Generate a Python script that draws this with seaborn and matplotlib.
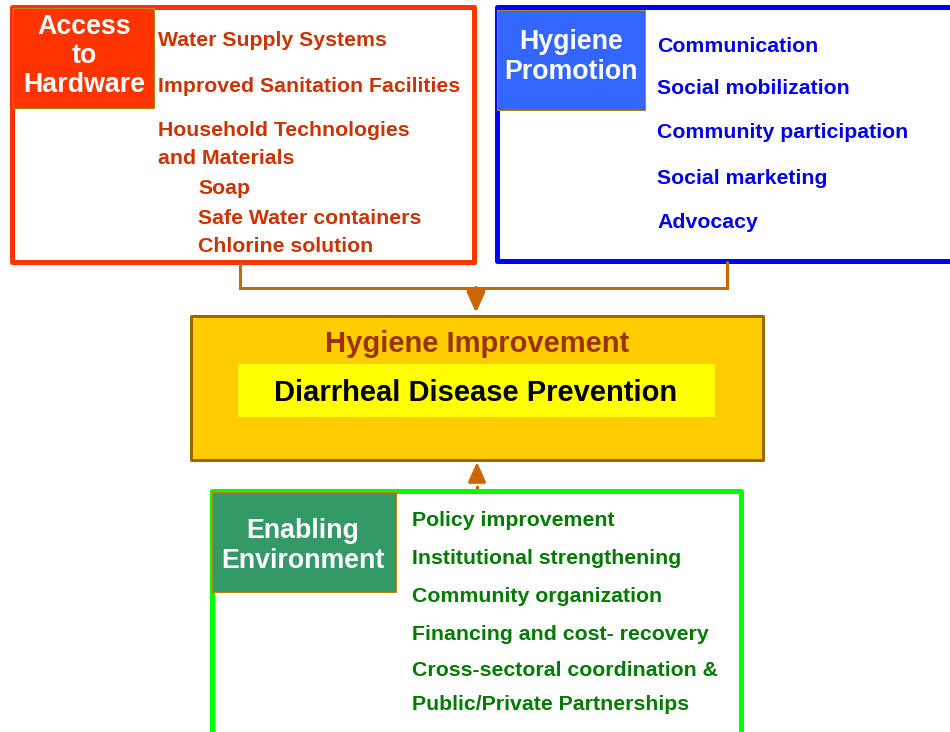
import matplotlib
matplotlib.use("Agg")
import matplotlib.pyplot as plt
import matplotlib.patches as mpatches
import seaborn as sns

# ---- content ----
hardware_title = "Access\nto\nHardware"
hardware_items = ["Water Supply Systems", "Improved Sanitation Facilities",
                  "Household Technologies", "and Materials"]
hardware_subitems = ["Soap", "Safe Water containers", "Chlorine solution"]

promotion_title = "Hygiene\nPromotion"
promotion_items = ["Communication", "Social mobilization", "Community participation",
                   "Social marketing", "Advocacy"]

center_title = "Hygiene Improvement"
center_subtitle = "Diarrheal Disease Prevention"

environment_title = "Enabling\nEnvironment"
environment_items = ["Policy improvement", "Institutional strengthening",
                     "Community organization", "Financing and cost- recovery",
                     "Cross-sectoral coordination &", "Public/Private Partnerships"]

# ---- layout ----
sns.set_theme(style="white")
plt.rcParams['font.family'] = ['Liberation Sans', 'DejaVu Sans']

W, H = 950, 732
fig = plt.figure(figsize=(W / 100, H / 100), dpi=100)
ax = fig.add_axes([0, 0, 1, 1])
ax.set_xlim(0, W)
ax.set_ylim(H, 0)
ax.axis("off")

PX = 72 / 100  # points per pixel
ITEM_FS = 15.3
LABEL_FS = 19.3
LS = 1.17


def rect(x0, y0, x1, y1, fc, ec, lw_px, z=1):
    r = mpatches.Rectangle((x0, y0), x1 - x0, y1 - y0, facecolor=fc, edgecolor=ec,
                           linewidth=lw_px * PX, joinstyle="round", zorder=z)
    ax.add_patch(r)


# Access to Hardware box
rect(12, 7, 474, 262, "white", "#FF3300", 5)
rect(13, 8, 154, 108, "#FF3300", "#B8860B", 1, z=2)
ax.text(84, 56, hardware_title, color="white", fontsize=LABEL_FS, fontweight="bold",
        ha="center", va="center", linespacing=LS, zorder=3)
red_txt = "#CC3300"
for yy, t in zip([41, 87, 130, 159], hardware_items):
    ax.text(158, yy, t, color=red_txt, fontsize=ITEM_FS, fontweight="bold", ha="left", va="center", zorder=3)
for yy, t in zip([189, 218, 246], hardware_subitems):
    ax.text(198, yy, t, color=red_txt, fontsize=ITEM_FS, fontweight="bold", ha="left", va="center", zorder=3)

# Hygiene Promotion box
rect(497, 7, 960, 261, "white", "#0000FF", 5)
rect(497, 10, 645, 110, "#3366FF", "#B8860B", 1, z=2)
ax.text(571, 57, promotion_title, color="white", fontsize=LABEL_FS, fontweight="bold",
        ha="center", va="center", linespacing=LS, zorder=3)
blue_txt = "#0000EE"
for yy, t in zip([46, 89, 132, 179, 222], promotion_items):
    ax.text(657, yy, t, color=blue_txt, fontsize=ITEM_FS, fontweight="bold", ha="left", va="center", zorder=3)

# connectors
conn = "#CC6600"
ax.plot([240, 240, 727, 727], [264, 288, 288, 262], color=conn, lw=3 * PX, zorder=1,
        solid_joinstyle="miter")
ax.annotate("", xy=(476, 313), xytext=(476, 288),
            arrowprops=dict(arrowstyle="-|>,head_width=0.45,head_length=1.0", color=conn,
                            lw=4 * PX, shrinkA=0, shrinkB=0), zorder=1)

# Hygiene Improvement box
rect(191, 316, 763, 460, "#FFCC00", "#996600", 3)
ax.text(477, 344, center_title, color="#993300", fontsize=21, fontweight="bold",
        ha="center", va="center", zorder=3)
rect(238, 364, 715, 417, "#FFFF00", "none", 0, z=2)
ax.text(476, 393, center_subtitle, color="black", fontsize=21, fontweight="bold",
        ha="center", va="center", zorder=3)

# bottom arrow (dashed shaft)
ax.plot([477, 477], [490, 478], color=conn, lw=3 * PX, ls=(0, (1.5, 1)), zorder=1)
ax.annotate("", xy=(477, 462), xytext=(477, 478),
            arrowprops=dict(arrowstyle="-|>,head_width=0.45,head_length=1.0", color=conn,
                            lw=3 * PX, shrinkA=0, shrinkB=0), zorder=1)

# Enabling Environment box
rect(212, 491, 741, 740, "white", "#00FF00", 5)
rect(212, 492, 396, 592, "#339966", "#B8860B", 1, z=2)
ax.text(303, 546, environment_title, color="white", fontsize=LABEL_FS, fontweight="bold",
        ha="center", va="center", linespacing=LS, zorder=3)
green_txt = "#007A00"
for yy, t in zip([521, 559, 597, 635, 670, 704], environment_items):
    ax.text(412, yy, t, color=green_txt, fontsize=ITEM_FS, fontweight="bold", ha="left", va="center", zorder=3)

fig.savefig("out.png", dpi=100)
